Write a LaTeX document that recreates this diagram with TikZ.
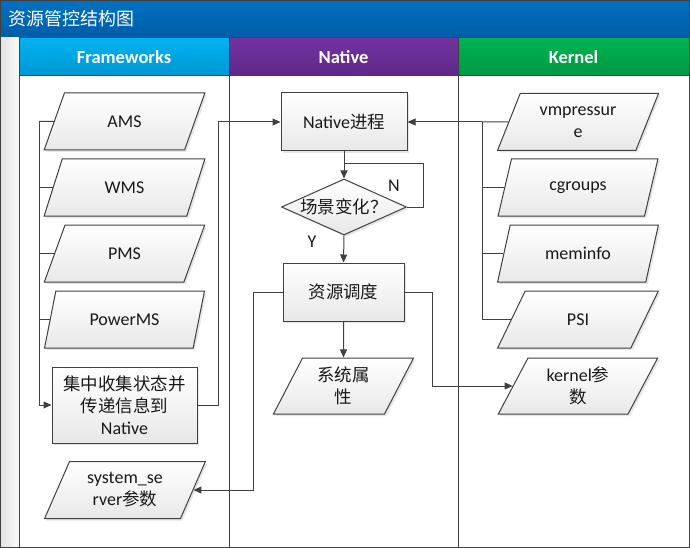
\documentclass[tikz,border=0pt]{standalone}
\usepackage{fontspec}
\setmainfont{Carlito}
\newfontfamily\cjk{Noto Sans CJK SC}[Scale=0.97]
\usetikzlibrary{arrows.meta}
\usetikzlibrary{shapes,arrows}
\usetikzlibrary{shadows}
\definecolor{linegray}{HTML}{404040}
\definecolor{titletop}{HTML}{0072C1}
\definecolor{titlebot}{HTML}{005CA6}
\definecolor{fwtop}{HTML}{00B2F0}
\definecolor{fwbot}{HTML}{0097D3}
\definecolor{nattop}{HTML}{7232A2}
\definecolor{natbot}{HTML}{5F2888}
\definecolor{kertop}{HTML}{00B251}
\definecolor{kerbot}{HTML}{009944}
\newcommand{\cj}[1]{{\cjk #1}}

\begin{document}
\begin{tikzpicture}[x=1pt,y=-1pt,line width=1pt,
    every node/.style={font=\fontsize{18}{22}\selectfont, text=black!90}]
\tikzset{
    lanehead/.style={
        rectangle,
        draw=linegray,
        minimum width=#1,
        minimum height=38pt,
        text=white,
        font=\fontsize{18.5}{20}\selectfont\bfseries
    },
    input/.style={
        draw=linegray,
        trapezium,
        trapezium left angle=64,
        trapezium right angle=116,
        trapezium stretches=true,
        minimum width=#1,
        minimum height=57pt,
        top color=white,
        bottom color=gray!18,
        drop shadow={shadow xshift=2pt,shadow yshift=-2pt,opacity=.2},
        align=center,
        inner sep=0pt
    },
    input/.default=161pt,
    operation/.style={
        draw=linegray,
        rectangle,
        top color=white,
        bottom color=gray!18,
        drop shadow={shadow xshift=2pt,shadow yshift=-2pt,opacity=.2},
        align=center,
        inner sep=0pt
    },
    decision/.style={
        draw=linegray,
        diamond,
        minimum width=125pt,
        minimum height=56pt,
        inner sep=0pt,
        top color=white,
        bottom color=gray!18,
        drop shadow={shadow xshift=2pt,shadow yshift=-2pt,opacity=.2}
    },
    arrowline/.style={
        draw=linegray,
        -{Triangle[length=8pt,width=7pt]}
    },
    joinline/.style={
        draw=linegray
    }
}
\useasboundingbox (0,0) rectangle (690,548);

% title and lanes
\shade[top color=titletop, bottom color=titlebot] (0.5,0.5) rectangle (689.5,38);
\node[anchor=west, text=white, font=\fontsize{18.5}{20}\selectfont] (title) at (5,19) {\cj{资源管控结构图}};
\shade[left color=gray!22, right color=gray!4] (0.5,38) rectangle (19,547.5);
\node[lanehead=210pt, top color=fwtop, bottom color=fwbot] (fwhead) at (124,57) {Frameworks};
\node[lanehead=229pt, top color=nattop, bottom color=natbot] (nathead) at (343.5,57) {Native};
\node[lanehead=231pt, top color=kertop, bottom color=kerbot] (kerhead) at (573.5,57) {Kernel};
\draw[linegray] (19,76) rectangle (229,547.5);
\draw[linegray] (229,76) rectangle (458,547.5);
\draw[linegray] (458,76) rectangle (689.5,547.5);
\draw[linegray] (0.5,0.5) rectangle (689.5,547.5);

% Frameworks
\node[input] (ams) at (124.5,121.5) {AMS};
\node[input] (wms) at (124.5,187.5) {WMS};
\node[input] (pms) at (124.5,253.5) {PMS};
\node[input] (powerms) at (124.5,319.5) {PowerMS};
\node[operation, minimum width=145pt, minimum height=76pt] (collect) at (124.5,405)
    {\cj{集中收集状态并}\\\cj{传递信息到}\\Native};
\node[input] (sysserver) at (125,490) {system\_se\\rver\cj{参数}};

% Native
\node[operation, minimum width=126pt, minimum height=58pt] (native) at (344,122) {Native\cj{进程}};
\node[decision] (change) at (344,207) {\makebox[0pt]{\cj{场景变化？}}};
\node[operation, minimum width=121pt, minimum height=58pt] (sched) at (343.5,292) {\cj{资源调度}};
\node[input=141pt, minimum height=56pt] (sysprop) at (343.5,386) {\cj{系统属}\\\cj{性}};
\node (nlabel) at (394,186) {N};
\node (ylabel) at (312,242) {Y};

% Kernel
\node[input] (vmpressure) at (578,122) {vmpressur\\e};
\node[input] (cgroups) at (578,187.5) {cgroups};
\node[input] (meminfo) at (578,253.5) {meminfo};
\node[input] (psi) at (578,319.5) {PSI};
\node[input, minimum height=56pt] (kparam) at (578,386) {kernel\cj{参}\\\cj{数}};

\coordinate (fwbus) at (39,121.5);
\coordinate (kbus) at (482,122);
\coordinate (loopjoin) at (344,164);

% connectors
\draw[joinline] (ams.west) -- (fwbus);
\draw[joinline] (wms.west) -| (fwbus);
\draw[joinline] (pms.west) -| (fwbus);
\draw[joinline] (powerms.west) -| (fwbus);
\draw[arrowline] (fwbus) |- (collect.west);
\draw[arrowline] (collect.east) -- ++(21,0) |- (native.west);

\draw[joinline] (vmpressure.west) -- (kbus);
\draw[joinline] (cgroups.west) -| (kbus);
\draw[joinline] (meminfo.west) -| (kbus);
\draw[joinline] (psi.west) -| (kbus);
\draw[arrowline] (kbus) -- (native.east);

\draw[arrowline] (native.south) -- (change.north);
\draw[joinline] (change.east) -- ++(16,0) |- (loopjoin);
\draw[arrowline] (change.south) -- (sched.north);
\draw[arrowline] (sched.south) -- (sysprop.north);
\draw[arrowline] (sched.west) -- ++(-29,0) |- (sysserver.east);
\draw[arrowline] (sched.east) -- ++(28,0) |- (kparam.west);
\end{tikzpicture}
\end{document}
